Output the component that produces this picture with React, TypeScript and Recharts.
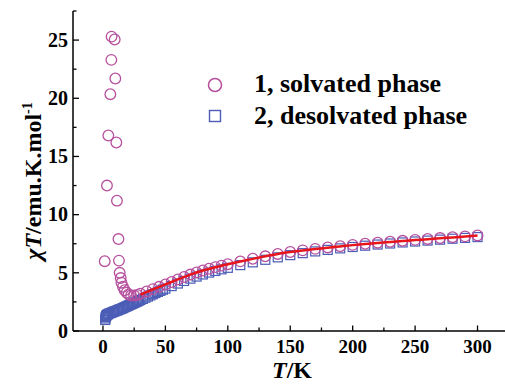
import React from 'react';
import { ComposedChart, Scatter, Line, XAxis, YAxis, Legend } from 'recharts';

// temperatures (K) and chiT values (emu.K.mol-1)
const solvatedT = [
  1.4, 3.2, 4.3, 5.9, 6.7, 6.9, 9.4, 9.9, 10.7, 11.2, 12.4, 12.8, 13.4, 14.2, 14.8, 16, 17.4, 19, 20.5, 22.5, 25, 27.5,
  30, 35, 40, 45, 50, 55, 60, 65, 70, 75, 80, 85, 90, 95, 100,
  110, 120, 130, 140, 150, 160, 170, 180, 190, 200, 210, 220, 230, 240, 250, 260, 270, 280, 290, 300,
];
const solvatedChi = [
  6.0, 12.5, 16.8, 20.35, 23.3, 25.3, 25.05, 21.7, 16.2, 11.2, 7.9, 6.05, 5.0, 4.55, 4.15, 3.8, 3.5, 3.3, 3.15, 3.05, 3.05, 3.1,
  3.2, 3.4, 3.6, 3.8, 4.0, 4.21, 4.43, 4.64, 4.85, 5.03, 5.2, 5.35, 5.49, 5.62, 5.74,
  5.98, 6.21, 6.42, 6.62, 6.79, 6.93, 7.06, 7.18, 7.29, 7.4, 7.5, 7.59, 7.67, 7.75, 7.83, 7.91, 7.99, 8.06, 8.13, 8.21,
];

const desolvatedT = [
  1.8, 2.0, 2.2, 2.5, 3, 3.5, 4,
  5, 6, 7, 8, 9, 10, 11, 12, 13, 14, 15, 16, 17, 18, 19, 20, 21, 22, 23, 24, 25, 26, 27, 28, 29, 30,
  32, 34, 36, 38, 40, 42, 44, 46, 48, 50,
  55, 60, 65, 70, 75, 80, 85, 90, 95, 100,
  110, 120, 130, 140, 150, 160, 170, 180, 190, 200, 210, 220, 230, 240, 250, 260, 270, 280, 290, 300,
];
const desolvatedChi = [
  0.95, 1.08, 1.2, 1.3, 1.35, 1.4, 1.45,
  1.5, 1.54, 1.58, 1.63, 1.67, 1.71, 1.75, 1.79, 1.84, 1.88, 1.92, 1.97, 2.02, 2.07, 2.12, 2.17, 2.22, 2.27, 2.32, 2.37, 2.42, 2.47, 2.52, 2.57, 2.62, 2.67,
  2.76, 2.86, 2.96, 3.06, 3.16, 3.26, 3.36, 3.45, 3.55, 3.64,
  3.86, 4.08, 4.3, 4.5, 4.68, 4.86, 5.02, 5.16, 5.3, 5.43,
  5.66, 5.9, 6.12, 6.33, 6.52, 6.69, 6.84, 6.97, 7.1, 7.22, 7.33, 7.43, 7.52, 7.61, 7.69, 7.77, 7.85, 7.93, 8.0, 8.07,
];

// fitted curve
const fitT = [30, 40, 50, 60, 70, 80, 90, 100, 110, 120, 130, 140, 150, 160, 170, 180, 190, 200, 210, 220, 230, 240, 250, 260, 270, 280, 290, 300];
const fitChi = [3.12, 3.57, 4.0, 4.43, 4.85, 5.2, 5.48, 5.73, 5.97, 6.2, 6.42, 6.62, 6.78, 6.92, 7.04, 7.16, 7.27, 7.38, 7.48, 7.57, 7.65, 7.73, 7.81, 7.89, 7.97, 8.04, 8.12, 8.2];

const xTicks = [0, 25, 50, 75, 100, 125, 150, 175, 200, 225, 250, 275, 300];
const yTicks = [0, 2.5, 5, 7.5, 10, 12.5, 15, 17.5, 20, 22.5, 25, 27.5];

const legendLabels = ['1, solvated phase', '2, desolvated phase'];

const PINK = '#b6509e';
const BLUE = '#4b5db6';
const RED = '#e8161c';
const FONT = 'Liberation Serif, DejaVu Serif, serif';

const PLOT_LEFT = 73;
const PLOT_BOTTOM = 331;

const zip = (ts: number[], vs: number[]) => ts.map((T, i) => ({ T, v: vs[i] }));
const solvated = zip(solvatedT, solvatedChi);
const desolvated = zip(desolvatedT, desolvatedChi);
const fit = zip(fitT, fitChi);

const HollowCircle = (p: any) => (
  <circle cx={p.cx} cy={p.cy} r={5.3} fill="none" stroke={PINK} strokeWidth={1.3} />
);
const HollowSquare = (p: any) => (
  <rect x={p.cx - 4.5} y={p.cy - 4.5} width={9} height={9} fill="none" stroke={BLUE} strokeWidth={1.2} />
);

function YTick({ y, payload }: any) {
  const v = payload.value;
  const major = v % 5 === 0;
  return (
    <g>
      <line x1={PLOT_LEFT} x2={PLOT_LEFT + (major ? 6 : 3.5)} y1={y} y2={y} stroke="#000" strokeWidth={1.3} />
      {major && (
        <text x={PLOT_LEFT - 5} y={y} dy="0.34em" textAnchor="end" style={{ fontFamily: FONT }} fontWeight="bold" fontSize={20} fill="#000">
          {v}
        </text>
      )}
    </g>
  );
}

function XTick({ x, payload }: any) {
  const v = payload.value;
  const major = v % 50 === 0;
  return (
    <g>
      <line x1={x} x2={x} y1={PLOT_BOTTOM} y2={PLOT_BOTTOM - (major ? 5.5 : 3.5)} stroke="#000" strokeWidth={1.3} />
      {major && (
        <text x={x} y={PLOT_BOTTOM + 22} textAnchor="middle" style={{ fontFamily: FONT }} fontWeight="bold" fontSize={19} fill="#000">
          {v}
        </text>
      )}
    </g>
  );
}

const YTitle = () => (
  <text transform="translate(41,181) rotate(-90)" textAnchor="middle" style={{ fontFamily: FONT }} fontWeight="bold" fontSize={24} fill="#000">
    <tspan fontStyle="italic">χT</tspan>
    <tspan>/emu.K.mol</tspan>
    <tspan dy={-9} fontSize={14}>-1</tspan>
  </text>
);

const XTitle = () => (
  <text x={292} y={378} textAnchor="middle" style={{ fontFamily: FONT }} fontWeight="bold" fontSize={24} fill="#000">
    <tspan fontStyle="italic">T</tspan>
    <tspan>/K</tspan>
  </text>
);

const renderLegend = () => (
  <div style={{ fontFamily: FONT, fontWeight: 'bold', fontSize: 26, color: '#000', lineHeight: '32px' }}>
    {legendLabels.map((label, i) => (
      <div key={label} style={{ display: 'flex', alignItems: 'flex-start', height: 32, whiteSpace: 'nowrap' }}>
        <svg width={30} height={32}>
          {i === 0 ? (
            <circle cx={15} cy={17} r={6.5} fill="none" stroke={PINK} strokeWidth={1.5} />
          ) : (
            <rect x={9.5} y={10.5} width={11} height={11} fill="none" stroke={BLUE} strokeWidth={1.4} />
          )}
        </svg>
        <span style={{ marginLeft: 24 }}>{label}</span>
      </div>
    ))}
  </div>
);

export default function App() {
  const lineProps: any = { zIndex: 700 };
  return (
    <div style={{ position: 'absolute', left: 0, top: 0, background: '#fff' }}>
      <ComposedChart width={505} height={384} margin={{ top: 11, right: 0, bottom: 0, left: 0 }}>
        <XAxis
          type="number"
          dataKey="T"
          domain={[-24, 322]}
          allowDataOverflow
          ticks={xTicks}
          interval={0}
          height={53}
          tickSize={0}
          tickMargin={2}
          tickLine={false}
          tick={<XTick />}
          axisLine={{ stroke: '#000', strokeWidth: 1.5 }}
          label={<XTitle />}
        />
        <YAxis
          type="number"
          dataKey="v"
          domain={[0, 27.5]}
          allowDataOverflow
          ticks={yTicks}
          interval={0}
          width={73}
          tickSize={0}
          tickMargin={5}
          tickLine={false}
          tick={<YTick />}
          axisLine={{ stroke: '#000', strokeWidth: 1.5 }}
          label={<YTitle />}
        />
        <Legend
          layout="horizontal"
          verticalAlign="middle"
          align="center"
          content={renderLegend}
          wrapperStyle={{ left: 200, top: 68, width: 305 }}
        />
        <Scatter data={desolvated} shape={HollowSquare} isAnimationActive={false} />
        <Scatter data={solvated} shape={HollowCircle} isAnimationActive={false} />
        <Line data={fit} dataKey="v" type="monotone" stroke={RED} strokeWidth={2.5} dot={false} activeDot={false} isAnimationActive={false} {...lineProps} />
      </ComposedChart>
    </div>
  );
}
